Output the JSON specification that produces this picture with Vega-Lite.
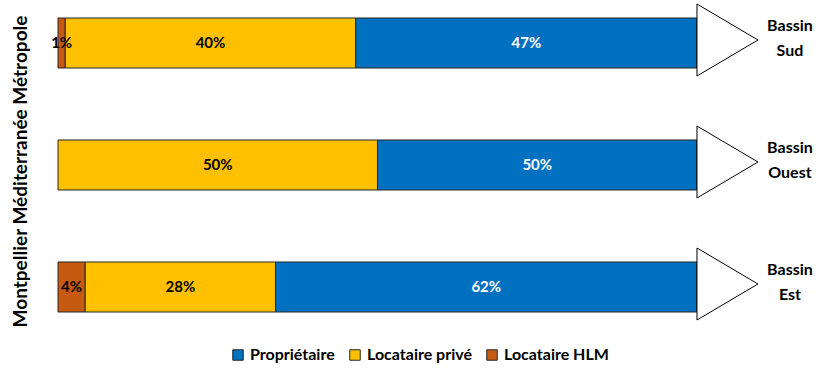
{
  "$schema": "https://vega.github.io/schema/vega-lite/v6.json",
  "width": 768,
  "height": 330,
  "autosize": {"type": "none"},
  "padding": {"left": 58, "top": 0, "right": 0, "bottom": 38},
  "background": "white",
  "config": {"view": {"stroke": null}, "font": "Lato"},
  "datasets": {
    "parts": [
      {"bassin": "Sud", "statut": "Locataire HLM", "ordre": 1, "part": 0.01},
      {"bassin": "Sud", "statut": "Locataire privé", "ordre": 2, "part": 0.40},
      {"bassin": "Sud", "statut": "Propriétaire", "ordre": 3, "part": 0.47},
      {"bassin": "Ouest", "statut": "Locataire privé", "ordre": 2, "part": 0.50},
      {"bassin": "Ouest", "statut": "Propriétaire", "ordre": 3, "part": 0.50},
      {"bassin": "Est", "statut": "Locataire HLM", "ordre": 1, "part": 0.04},
      {"bassin": "Est", "statut": "Locataire privé", "ordre": 2, "part": 0.28},
      {"bassin": "Est", "statut": "Propriétaire", "ordre": 3, "part": 0.62}
    ],
    "bassins": [
      {"bassin": "Sud", "nom": "Bassin Sud"},
      {"bassin": "Ouest", "nom": "Bassin Ouest"},
      {"bassin": "Est", "nom": "Bassin Est"}
    ]
  },
  "layer": [
    {
      "data": {"name": "parts"},
      "mark": {"type": "bar", "stroke": "#262626", "strokeWidth": 1},
      "encoding": {
        "y": {
          "field": "bassin", "type": "nominal", "sort": ["Sud", "Ouest", "Est"],
          "scale": {"paddingInner": 0.59, "paddingOuter": 0.1475},
          "axis": {
            "title": "Montpellier Méditerranée Métropole",
            "labels": false, "ticks": false, "domain": false, "grid": false,
            "titleFont": "Lato", "titleFontSize": 19, "titleFontWeight": "bold",
            "titleColor": "#000000", "titlePadding": 28, "titleY": 171
          }
        },
        "x": {
          "field": "part", "type": "quantitative", "stack": "normalize",
          "scale": {"domain": [0, 1.2019], "nice": false, "zero": true},
          "axis": null
        },
        "color": {
          "field": "statut", "type": "nominal",
          "scale": {
            "domain": ["Propriétaire", "Locataire privé", "Locataire HLM"],
            "range": ["#0070C0", "#FFC000", "#C55A11"]
          },
          "legend": {
            "title": null, "orient": "none", "direction": "horizontal",
            "legendX": 172, "legendY": 347,
            "labelFont": "Lato", "labelFontSize": 16, "labelFontWeight": "bold", "labelColor": "#000000",
            "symbolType": "square", "symbolSize": 110,
            "symbolStrokeColor": "#262626", "symbolStrokeWidth": 1,
            "columnPadding": 12, "labelOffset": 4
          }
        },
        "order": {"field": "ordre", "type": "quantitative"}
      }
    },
    {
      "data": {"name": "parts"},
      "mark": {"type": "text", "font": "Lato", "fontSize": 15, "fontWeight": "bold", "align": "center", "baseline": "middle"},
      "encoding": {
        "y": {"field": "bassin", "type": "nominal", "sort": ["Sud", "Ouest", "Est"]},
        "x": {
          "field": "part", "type": "quantitative", "stack": "normalize", "bandPosition": 0.5,
          "scale": {"domain": [0, 1.2019], "nice": false, "zero": true}
        },
        "detail": {"field": "statut"},
        "order": {"field": "ordre", "type": "quantitative"},
        "text": {"field": "part", "type": "quantitative", "format": ".0%"},
        "color": {
          "condition": {"test": "datum.statut === 'Propriétaire'", "value": "#FFFFFF"},
          "value": "#000000"
        }
      }
    },
    {
      "data": {"name": "bassins"},
      "mark": {
        "type": "point", "shape": "M-0.847,-1L0.847,0L-0.847,1Z", "size": 5184,
        "filled": true, "fill": "#FFFFFF", "stroke": "#000000", "strokeWidth": 1,
        "opacity": 1, "yOffset": -3
      },
      "encoding": {
        "y": {"field": "bassin", "type": "nominal", "sort": ["Sud", "Ouest", "Est"]},
        "x": {"datum": 1.0477, "type": "quantitative"}
      }
    },
    {
      "data": {"name": "bassins"},
      "mark": {
        "type": "text", "lineBreak": " ", "font": "Lato", "fontSize": 16, "fontWeight": "bold",
        "align": "center", "baseline": "middle", "lineHeight": 25, "dy": -17, "color": "#000000"
      },
      "encoding": {
        "y": {"field": "bassin", "type": "nominal", "sort": ["Sud", "Ouest", "Est"]},
        "x": {"datum": 1.1455, "type": "quantitative"},
        "text": {"field": "nom"}
      }
    }
  ]
}
